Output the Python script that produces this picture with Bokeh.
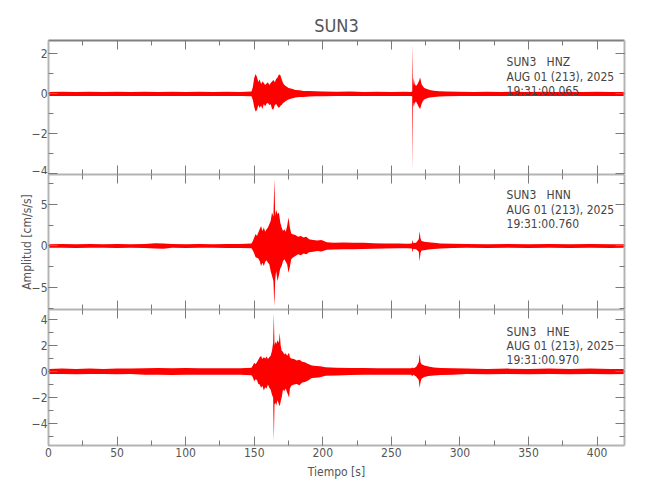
from bokeh.plotting import figure
from bokeh.layouts import column
from bokeh.models import (Range1d, LinearAxis, SingleIntervalTicker, Label,
                          ColumnDataSource, CustomLabelingPolicy)
from bokeh.embed import file_html
from bokeh.resources import INLINE

# ---------------- data (envelope of each trace) ----------------
station = "SUN3"
channels = ["HNZ", "HNN", "HNE"]
date_text = "AUG 01 (213), 2025"
start_times = ["19:31:00.065", "19:31:00.760", "19:31:00.970"]

# HNZ
t_z = [0, 10, 20, 30, 40, 50, 60, 70, 80, 90, 100, 110, 120, 130, 140, 148,
       149, 150, 151, 152, 153, 154, 155, 156, 157, 158, 159, 160, 161, 162, 163, 164,
       165, 166, 167, 168, 169, 170, 171, 172, 173, 174, 175, 176, 178, 180, 183, 186,
       190, 195, 200, 210, 220, 230, 240, 250, 260, 264, 265.2, 265.5, 265.8, 266.3,
       267, 268, 269, 270, 271, 272, 273, 274, 276, 278, 281, 285, 290, 300, 310, 320,
       330, 340, 350, 360, 370, 380, 390, 400, 410, 420]
hi_z = [0.10, 0.11, 0.10, 0.11, 0.10, 0.11, 0.10, 0.11, 0.10, 0.11, 0.10, 0.11, 0.10, 0.11, 0.10, 0.12,
        0.35, 0.80, 1.00, 0.85, 0.60, 0.72, 0.50, 0.62, 0.55, 0.45, 0.52, 0.58, 0.45, 0.55, 0.62, 0.70,
        0.58, 0.75, 0.82, 0.97, 0.95, 0.75, 0.55, 0.45, 0.40, 0.35, 0.30, 0.28, 0.25, 0.20, 0.18, 0.15,
        0.14, 0.13, 0.12, 0.11, 0.12, 0.10, 0.11, 0.10, 0.11, 0.10, 0.12, 2.50, 0.40, 0.80,
        0.50, 0.40, 0.48, 0.62, 0.82, 0.50, 0.38, 0.30, 0.25, 0.20, 0.16, 0.13, 0.12, 0.11, 0.10, 0.11,
        0.10, 0.11, 0.10, 0.11, 0.10, 0.11, 0.10, 0.11, 0.10, 0.10]
lo_z = [-0.10, -0.10, -0.11, -0.10, -0.10, -0.11, -0.10, -0.10, -0.11, -0.10, -0.10, -0.11, -0.10, -0.10, -0.11, -0.12,
        -0.30, -0.65, -0.88, -0.80, -0.55, -0.70, -0.58, -0.75, -0.50, -0.62, -0.48, -0.45, -0.55, -0.52, -0.75, -0.78,
        -0.55, -0.50, -0.62, -0.70, -0.60, -0.55, -0.45, -0.42, -0.35, -0.32, -0.28, -0.25, -0.22, -0.18, -0.16, -0.15,
        -0.13, -0.12, -0.12, -0.11, -0.10, -0.11, -0.10, -0.10, -0.11, -0.10, -0.12, -3.87, -0.40, -0.65,
        -0.45, -0.38, -0.52, -0.65, -0.75, -0.50, -0.35, -0.28, -0.22, -0.18, -0.15, -0.13, -0.12, -0.10, -0.11, -0.10,
        -0.10, -0.11, -0.10, -0.10, -0.11, -0.10, -0.10, -0.11, -0.10, -0.10]

# HNN
t_n = [0, 10, 20, 30, 40, 50, 60, 70, 78, 84, 90, 100, 110, 120, 130, 140, 148,
       149, 150, 151, 152, 153, 154, 155, 156, 157, 158, 159, 160, 161, 162, 163, 164,
       164.7, 165.3, 166, 167, 168, 169, 170, 171, 172, 173, 174, 175, 176, 177, 178,
       180, 182, 184, 186, 188, 190, 193, 196, 199, 203, 208, 215, 222, 230, 237, 245,
       255, 262, 265, 265.4, 266, 268, 270, 270.6, 271.3, 272, 274, 277, 281, 286, 295,
       305, 320, 335, 350, 365, 380, 395, 410, 420]
hi_n = [0.22, 0.24, 0.22, 0.24, 0.22, 0.24, 0.22, 0.25, 0.32, 0.30, 0.24, 0.22, 0.24, 0.22, 0.24, 0.25, 0.30,
        0.60, 1.00, 1.44, 1.20, 1.60, 2.00, 2.40, 1.80, 2.20, 1.70, 2.00, 2.20, 2.60, 3.00, 4.00, 3.50,
        8.00, 3.60, 4.30, 3.80, 4.00, 2.80, 2.20, 1.80, 2.00, 1.70, 2.40, 3.40, 2.20, 1.50, 1.40,
        1.30, 1.10, 1.20, 1.00, 1.10, 0.80, 0.70, 0.65, 0.70, 0.45, 0.40, 0.42, 0.38, 0.40, 0.32, 0.30,
        0.30, 0.28, 0.30, 0.72, 0.35, 0.40, 0.80, 1.76, 0.90, 0.60, 0.50, 0.45, 0.38, 0.30, 0.26,
        0.24, 0.22, 0.24, 0.22, 0.24, 0.22, 0.24, 0.22, 0.22]
lo_n = [-0.22, -0.22, -0.24, -0.22, -0.22, -0.24, -0.22, -0.24, -0.30, -0.32, -0.22, -0.24, -0.22, -0.22, -0.24, -0.24, -0.28,
        -0.55, -0.90, -1.36, -1.40, -1.50, -1.80, -2.40, -2.00, -2.40, -1.90, -1.70, -2.00, -2.20, -3.00, -3.60, -4.20,
        -7.20, -4.00, -3.00, -4.20, -3.50, -2.70, -2.40, -1.80, -1.60, -1.90, -2.20, -3.20, -2.50, -1.60, -1.40,
        -1.20, -1.00, -1.10, -0.90, -1.00, -0.75, -0.70, -0.60, -0.65, -0.45, -0.42, -0.40, -0.38, -0.36, -0.32, -0.30,
        -0.28, -0.28, -0.30, -0.75, -0.35, -0.40, -0.70, -1.84, -0.80, -0.55, -0.50, -0.42, -0.36, -0.30, -0.25,
        -0.22, -0.24, -0.22, -0.24, -0.22, -0.24, -0.22, -0.24, -0.22]

# HNE
t_e = [0, 10, 20, 30, 40, 50, 60, 70, 80, 90, 100, 110, 120, 130, 140, 148,
       149, 150, 151, 152, 153, 154, 155, 156, 157, 158, 159, 160, 161, 162, 163, 163.8,
       164.3, 164.8, 165.5, 166, 167, 168, 168.6, 169.3, 170, 171, 172, 173, 174, 175.4,
       176, 177, 179, 181, 183, 185, 187, 189, 192, 195, 198, 202, 210, 220, 230, 240,
       250, 260, 264.5, 265.2, 266, 268, 270, 270.6, 271.3, 272, 274, 277, 281, 286, 295,
       305, 320, 335, 350, 365, 380, 395, 410, 420]
hi_e = [0.20, 0.22, 0.20, 0.22, 0.20, 0.22, 0.22, 0.25, 0.26, 0.25, 0.26, 0.25, 0.24, 0.25, 0.24, 0.28,
        0.45, 0.67, 0.55, 0.70, 0.90, 1.10, 1.18, 0.95, 1.10, 1.00, 1.15, 0.95, 1.10, 1.20, 1.60, 2.20,
        4.46, 2.00, 2.30, 2.10, 2.40, 2.20, 2.97, 2.00, 1.60, 1.50, 1.30, 1.40, 1.20, 1.44,
        1.10, 1.00, 0.95, 0.85, 0.90, 0.75, 0.70, 0.60, 0.45, 0.42, 0.40, 0.32, 0.28, 0.26, 0.27, 0.25,
        0.24, 0.25, 0.25, 0.30, 0.25, 0.35, 0.70, 1.36, 0.70, 0.55, 0.45, 0.38, 0.30, 0.26, 0.24,
        0.22, 0.20, 0.22, 0.20, 0.22, 0.20, 0.22, 0.20, 0.20]
lo_e = [-0.20, -0.20, -0.22, -0.20, -0.20, -0.22, -0.20, -0.24, -0.25, -0.26, -0.24, -0.25, -0.25, -0.24, -0.24, -0.28,
        -0.45, -0.74, -0.60, -0.65, -0.95, -1.00, -1.25, -1.10, -1.45, -1.20, -1.30, -1.00, -1.25, -1.40, -1.80, -2.00,
        -5.36, -2.50, -2.40, -2.60, -2.20, -2.50, -2.67, -2.30, -2.00, -1.40, -1.50, -1.30, -1.60, -2.00,
        -1.30, -1.10, -1.00, -0.95, -1.05, -0.85, -0.80, -0.70, -0.50, -0.48, -0.45, -0.32, -0.30, -0.27, -0.25, -0.25,
        -0.25, -0.24, -0.25, -0.36, -0.25, -0.38, -0.65, -1.26, -0.80, -0.55, -0.42, -0.35, -0.30, -0.26, -0.24,
        -0.20, -0.22, -0.20, -0.22, -0.20, -0.22, -0.20, -0.22, -0.20]

x_limits = (0, 420)
y_limits = [(-4.03, 2.67), (-7.6, 8.55), (-5.67, 4.75)]
y_intervals = [2, 5, 2]
label_y = [(1.58, 0.87, 0.17), (6.04, 4.32, 2.60), (3.02, 1.94, 0.85)]

# ---------------- styling ----------------
FONT = "DejaVu Sans Condensed"
RED = "#ff0000"
AX = "#b4b4b4"
TICK = "#7a7a7a"
TXT = "#555555"

W = 634
heights = [174, 135, 182]
tops = [40, 0, 0]
bottoms = [0, 0, 46]

NO_LABELS = CustomLabelingPolicy(code="""
for (let i = 0; i < indices.size; i++) { indices.unset(i) }
return indices
""")


def style_axis(a, labels, dark=False):
    a.axis_line_color = "#808080" if dark else AX
    a.axis_line_width = 2
    a.major_tick_in = 9
    a.major_tick_out = 0
    a.minor_tick_in = 5
    a.minor_tick_out = 0
    a.major_tick_line_color = TICK
    a.minor_tick_line_color = TICK
    a.major_label_text_font = FONT
    if labels:
        a.major_label_text_font_size = "12px"
        a.major_label_text_color = TXT
        a.major_label_standoff = 2
    else:
        a.major_label_policy = NO_LABELS
        a.major_label_text_font_size = "0px"
        a.major_label_standoff = 0


figs = []
series = [(t_z, hi_z, lo_z), (t_n, hi_n, lo_n), (t_e, hi_e, lo_e)]
for i, (t, hi, lo) in enumerate(series):
    p = figure(width=W, height=heights[i],
               x_range=Range1d(*x_limits), y_range=Range1d(*y_limits[i]),
               output_backend="svg", toolbar_location=None,
               x_axis_location=None, y_axis_location=None,
               min_border_left=48, min_border_right=10,
               min_border_top=tops[i], min_border_bottom=bottoms[i])
    p.grid.visible = False
    p.outline_line_color = None
    p.background_fill_color = "white"
    p.border_fill_color = "white"

    src = ColumnDataSource(dict(t=t, hi=hi, lo=lo))
    p.varea(x="t", y1="lo", y2="hi", source=src, fill_color=RED, fill_alpha=1.0)

    xt = SingleIntervalTicker(interval=50, num_minor_ticks=2)
    yt = SingleIntervalTicker(interval=y_intervals[i], num_minor_ticks=2)

    left = LinearAxis(ticker=yt)
    style_axis(left, True)
    left.major_label_standoff = 1
    right = LinearAxis(ticker=yt)
    style_axis(right, False)
    top = LinearAxis(ticker=xt)
    style_axis(top, False, dark=(i == 0))
    bottom = LinearAxis(ticker=xt)
    style_axis(bottom, i == 2)

    if i == 1:
        left.axis_label = "Amplitud [cm/s/s]"
        left.axis_label_text_font = FONT
        left.axis_label_text_font_size = "12px"
        left.axis_label_text_font_style = "normal"
        left.axis_label_text_color = TXT
        left.axis_label_standoff = -5
    if i == 2:
        bottom.axis_label = "Tiempo [s]"
        bottom.axis_label_text_font = FONT
        bottom.axis_label_text_font_size = "12px"
        bottom.axis_label_text_font_style = "normal"
        bottom.axis_label_text_color = TXT
        bottom.axis_label_standoff = 5

    p.add_layout(left, "left")
    p.add_layout(right, "right")
    p.add_layout(top, "above")
    p.add_layout(bottom, "below")

    lines = [f"{station}\u00a0\u00a0\u00a0{channels[i]}", date_text, start_times[i]]
    for txt, yy in zip(lines, label_y[i]):
        p.add_layout(Label(x=334, y=yy, text=txt, text_baseline="middle",
                           text_font=FONT, text_font_size="12px", text_color="#444444"))

    if i == 0:
        p.title.text = station
        p.title.align = "center"
        p.title.text_font = FONT
        p.title.text_font_size = "18px"
        p.title.text_font_style = "normal"
        p.title.text_color = TXT
    figs.append(p)

layout = column(*figs, spacing=0)
open("out.html", "w").write(file_html(layout, INLINE))
